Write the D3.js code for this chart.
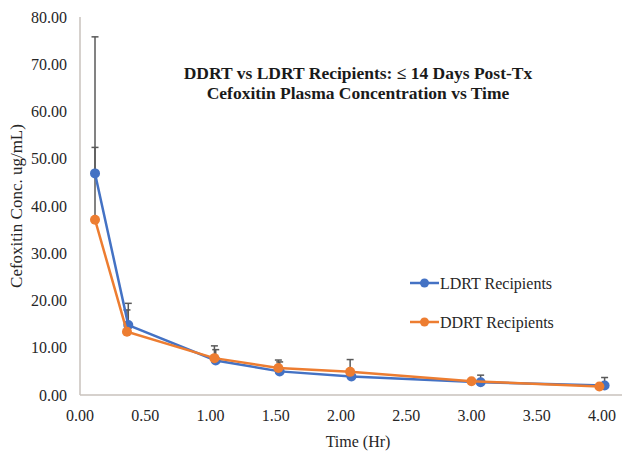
<!DOCTYPE html>
<html>
<head>
<meta charset="utf-8">
<script src="https://cdn.jsdelivr.net/npm/d3@7"></script>
<style>
    body { margin: 0; background: #fff; }
</style>
</head>
<body>
<svg id="chart"></svg>
<script>
// chart data
const seriesNames = ["LDRT Recipients", "DDRT Recipients"];
const seriesColors = ["#4472C4", "#ED7D31"];
const ldrtTime = [0.115, 0.37, 1.04, 1.53, 2.08, 3.07, 4.02];
const ldrtConc = [46.9, 14.8, 7.3, 5.0, 3.9, 2.7, 2.0];
const ldrtErr = [28.9, 4.6, 2.3, 2.0, 0.7, 1.5, 1.7];
const ddrtTime = [0.115, 0.36, 1.03, 1.52, 2.07, 3.00, 3.98];
const ddrtConc = [37.1, 13.4, 7.8, 5.7, 4.9, 2.9, 1.8];
const ddrtErr = [15.3, 4.6, 2.6, 1.7, 2.6, 0.3, 0.3];
const xTicks = [0, 0.5, 1, 1.5, 2, 2.5, 3, 3.5, 4];
const yTicks = [0, 10, 20, 30, 40, 50, 60, 70, 80];

const canvWidth = 628;
const canvHeight = 451;
const serif = "'Liberation Serif', 'Times New Roman', 'DejaVu Serif', serif";

// plot area in pixels
const plot = { left: 80, right: 622, top: 17, bottom: 395 };

const svg = d3.select("#chart")
    .attr("width", canvWidth)
    .attr("height", canvHeight)
    .attr("font-family", serif)
    .style("font-family", serif);

// scales
const x = d3.scaleLinear().domain([0, (plot.right - plot.left) / 130.5]).range([plot.left, plot.right]);
const y = d3.scaleLinear().domain([0, 80]).range([plot.bottom, plot.top]);

// axis lines, no ticks
svg.append("line")
    .attr("x1", plot.left).attr("x2", plot.left)
    .attr("y1", plot.top).attr("y2", plot.bottom)
    .attr("stroke", "#c8c2bc").attr("stroke-width", 1.5);
svg.append("line")
    .attr("x1", plot.left).attr("x2", plot.right)
    .attr("y1", plot.bottom).attr("y2", plot.bottom)
    .attr("stroke", "#c8c2bc").attr("stroke-width", 1.5);

// y tick labels
svg.selectAll(".ylab")
    .data(yTicks)
    .enter().append("text")
    .attr("class", "ylab")
    .attr("x", plot.left - 13)
    .attr("y", d => y(d))
    .attr("dy", "0.35em")
    .attr("text-anchor", "end")
    .attr("fill", "#262626")
    .style("font-size", "16px")
    .text(d => d.toFixed(2));

// x tick labels
svg.selectAll(".xlab")
    .data(xTicks)
    .enter().append("text")
    .attr("class", "xlab")
    .attr("x", d => x(d))
    .attr("y", plot.bottom + 26)
    .attr("text-anchor", "middle")
    .attr("fill", "#262626")
    .style("font-size", "16px")
    .text(d => d.toFixed(2));

// axis titles
svg.append("text")
    .attr("x", 358).attr("y", 447)
    .attr("text-anchor", "middle")
    .attr("fill", "#262626")
    .style("font-size", "16px")
    .text("Time (Hr)");

svg.append("text")
    .attr("transform", "translate(22,206) rotate(-90)")
    .attr("text-anchor", "middle")
    .attr("fill", "#262626")
    .style("font-size", "17px")
    .text("Cefoxitin Conc. ug/mL)");

// chart title
svg.append("text")
    .attr("x", 358).attr("y", 79)
    .attr("text-anchor", "middle")
    .attr("fill", "#1a1a1a")
    .style("font-size", "17.5px").style("font-weight", "bold")
    .text("DDRT vs LDRT Recipients: \u2264 14 Days Post-Tx");
svg.append("text")
    .attr("x", 358).attr("y", 99)
    .attr("text-anchor", "middle")
    .attr("fill", "#1a1a1a")
    .style("font-size", "17.5px").style("font-weight", "bold")
    .text("Cefoxitin  Plasma Concentration  vs Time");

const series = [
    { name: seriesNames[0], color: seriesColors[0], t: ldrtTime, c: ldrtConc, e: ldrtErr },
    { name: seriesNames[1], color: seriesColors[1], t: ddrtTime, c: ddrtConc, e: ddrtErr }
];

// error bars (plus direction only)
series.forEach(function (s) {
    const pts = s.t.map((t, i) => ({ t: t, c: s.c[i], e: s.e[i] }));
    const g = svg.append("g").attr("stroke", "#595959").attr("stroke-width", 1.5);
    g.selectAll(".err").data(pts).enter().append("line")
        .attr("x1", d => x(d.t)).attr("x2", d => x(d.t))
        .attr("y1", d => y(d.c)).attr("y2", d => y(d.c + d.e));
    g.selectAll(".cap").data(pts).enter().append("line")
        .attr("x1", d => x(d.t) - 3.5).attr("x2", d => x(d.t) + 3.5)
        .attr("y1", d => y(d.c + d.e)).attr("y2", d => y(d.c + d.e));
});

// lines and markers
const line = d3.line().x(d => x(d.t)).y(d => y(d.c));
series.forEach(function (s) {
    const pts = s.t.map((t, i) => ({ t: t, c: s.c[i] }));
    svg.append("path")
        .datum(pts)
        .attr("d", line)
        .attr("fill", "none")
        .attr("stroke", s.color)
        .attr("stroke-width", 2.5);
    svg.append("g").selectAll("circle")
        .data(pts)
        .enter().append("circle")
        .attr("cx", d => x(d.t))
        .attr("cy", d => y(d.c))
        .attr("r", 5)
        .attr("fill", s.color);
});

// legend
const legend = svg.append("g");
series.forEach(function (s, i) {
    const ly = 283 + i * 39;
    legend.append("line")
        .attr("x1", 410).attr("x2", 439)
        .attr("y1", ly).attr("y2", ly)
        .attr("stroke", s.color).attr("stroke-width", 2.5);
    legend.append("circle")
        .attr("cx", 424.5).attr("cy", ly).attr("r", 4.5)
        .attr("fill", s.color);
    legend.append("text")
        .attr("x", 440).attr("y", ly)
        .attr("dy", "0.35em")
        .attr("fill", "#262626")
        .style("font-size", "16px")
        .text(s.name);
});
</script>
</body>
</html>
